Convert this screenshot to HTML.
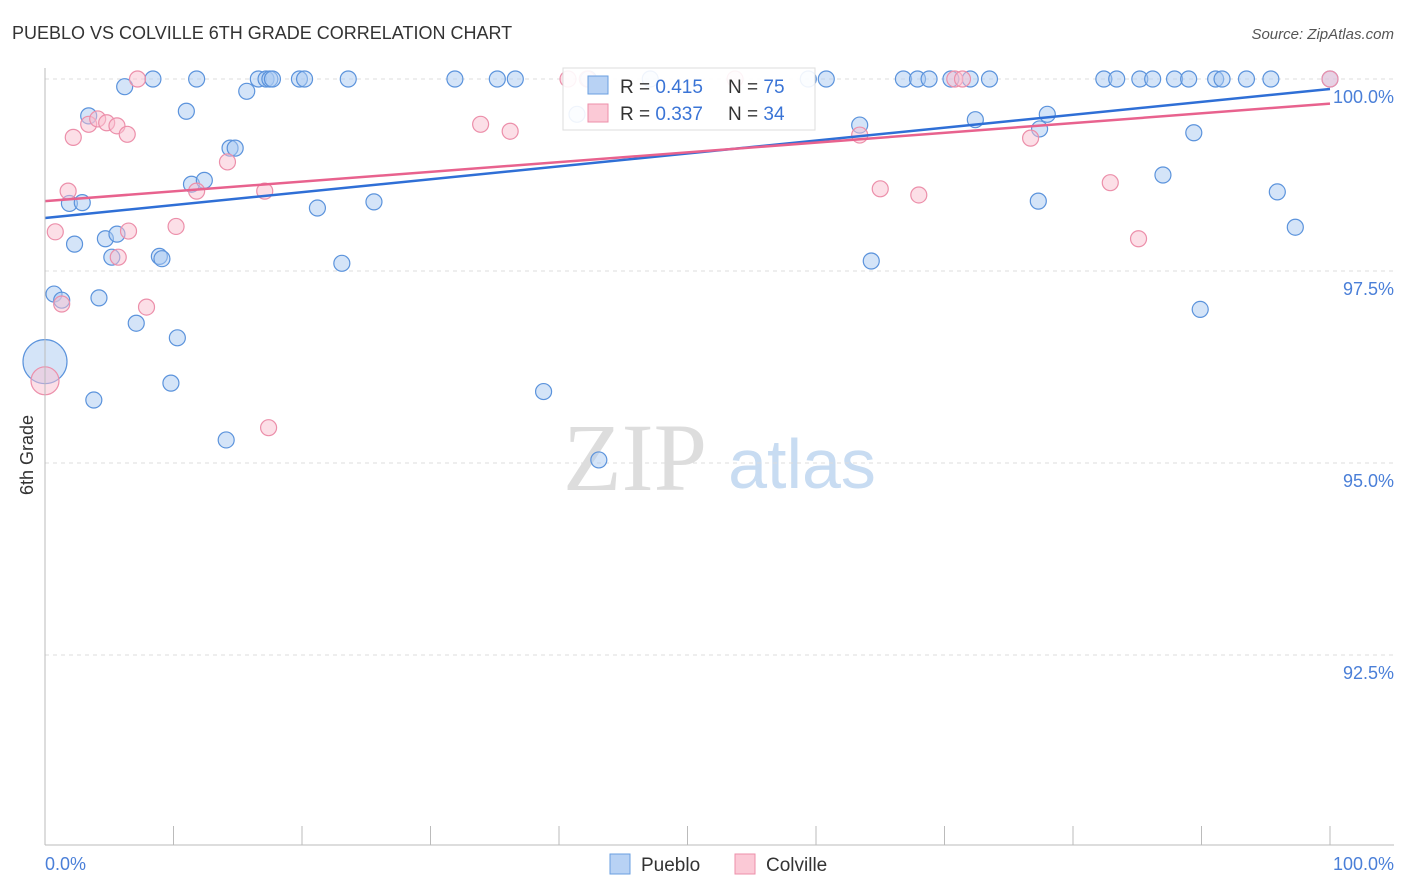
<!DOCTYPE html>
<html><head><meta charset="utf-8"><style>
body{margin:0;background:#fff;font-family:"Liberation Sans",sans-serif;}
svg{display:block}
</style></head><body>
<svg id="c" width="1406" height="892">
<text x="12" y="39" font-size="18" fill="#333">PUEBLO VS COLVILLE 6TH GRADE CORRELATION CHART</text>
<text x="1394" y="39" font-size="15" fill="#555" font-style="italic" text-anchor="end">Source: ZipAtlas.com</text>
<text x="33" y="455" font-size="18" fill="#333" transform="rotate(-90 33 455)" text-anchor="middle">6th Grade</text>
<g><text x="635" y="490" font-size="96" font-family="Liberation Serif,serif" fill="#ddd" text-anchor="middle">ZIP</text><text x="802" y="488" font-size="70" fill="#c8dcf2" text-anchor="middle">atlas</text></g>
<g id="grid"></g><g id="pts"></g><g id="lines"></g>
<line x1="45" y1="68" x2="45" y2="845" stroke="#bbb"/>
<line x1="45" y1="845" x2="1394" y2="845" stroke="#bbb"/>
<text x="45" y="870" font-size="18" fill="#4a7fd8">0.0%</text>
<text x="1394" y="870" font-size="18" fill="#4a7fd8" text-anchor="end">100.0%</text>
<g>
<rect x="563" y="68" width="252" height="62" fill="#fff" fill-opacity="0.9" stroke="#ddd"/>
<rect x="588" y="76" width="20" height="18" fill="#b8d2f4" stroke="#6a9fe0"/>
<text x="620" y="93" font-size="19" fill="#333">R = <tspan fill="#3a74d6">0.415</tspan></text>
<text x="728" y="93" font-size="19" fill="#333">N = <tspan fill="#3a74d6">75</tspan></text>
<rect x="588" y="104" width="20" height="18" fill="#fbc9d6" stroke="#ec8faa"/>
<text x="620" y="120" font-size="19" fill="#333">R = <tspan fill="#3a74d6">0.337</tspan></text>
<text x="728" y="120" font-size="19" fill="#333">N = <tspan fill="#3a74d6">34</tspan></text>
</g>
<g>
<rect x="610" y="854" width="20" height="20" fill="#b8d2f4" stroke="#6a9fe0"/>
<text x="641" y="871" font-size="19" fill="#333">Pueblo</text>
<rect x="735" y="854" width="20" height="20" fill="#fbc9d6" stroke="#ec8faa"/>
<text x="766" y="871" font-size="19" fill="#333">Colville</text>
</g>
</svg>
<script>
const yTicks=[100,97.5,95,92.5];
const yTickLabels=["100.0%","97.5%","95.0%","92.5%"];
const xTicks=[0,10,20,30,40,50,60,70,80,90,100];
const puebloX=[0,0.7,1.3,3.8,4.2,7.1,9.8,10.3,14.1,38.8,43.1,89.9,2.3,4.7,5.2,5.6,8.9,9.1,23.1,64.3,97.3,1.9,2.9,11.4,12.4,21.2,25.6,77.3,87.0,95.9,14.4,14.8,77.4,89.4,63.4,72.4,78.0,41.4,3.4,11.0,15.7,6.2,8.4,11.8,16.6,17.2,17.5,17.7,19.8,20.2,23.6,31.9,35.2,36.6,42.3,47.1,59.4,60.8,66.8,67.9,68.8,70.5,72.0,73.5,82.4,83.4,85.2,86.2,87.9,89.0,91.1,91.6,93.5,95.4,100];
const puebloY=[96.32,97.2,97.12,95.82,97.15,96.82,96.04,96.63,95.3,95.93,95.04,97.0,97.85,97.92,97.68,97.98,97.69,97.66,97.6,97.63,98.07,98.38,98.39,98.63,98.68,98.32,98.4,98.41,98.75,98.53,99.1,99.1,99.35,99.3,99.4,99.47,99.54,99.54,99.52,99.58,99.84,99.9,100,100,100,100,100,100,100,100,100,100,100,100,100,100,100,100,100,100,100,100,100,100,100,100,100,100,100,100,100,100,100,100,100];
const puebloSize=[22,8,8,8,8,8,8,8,8,8,8,8,8,8,8,8,8,8,8,8,8,8,8,8,8,8,8,8,8,8,8,8,8,8,8,8,8,8,8,8,8,8,8,8,8,8,8,8,8,8,8,8,8,8,8,8,8,8,8,8,8,8,8,8,8,8,8,8,8,8,8,8,8,8,8];
const colvilleX=[0,1.3,7.9,17.4,0.8,5.7,6.5,10.2,1.8,11.8,17.1,65.0,68.0,82.9,85.1,2.2,3.4,4.1,4.8,5.6,6.4,14.2,33.9,36.2,63.4,76.7,7.2,40.7,42.2,53.7,70.8,71.4,100];
const colvilleY=[96.07,97.07,97.03,95.46,98.01,97.68,98.02,98.08,98.54,98.54,98.54,98.57,98.49,98.65,97.92,99.24,99.41,99.48,99.43,99.39,99.28,98.92,99.41,99.32,99.27,99.23,100,100,100,100,100,100,100];
const colvilleSize=[14,8,8,8,8,8,8,8,8,8,8,8,8,8,8,8,8,8,8,8,8,8,8,8,8,8,8,8,8,8,8,8,8];
const puebloTrend=[98.19,99.87];
const colvilleTrend=[98.41,99.68];
const NS="http://www.w3.org/2000/svg";
const X=v=>45+v/100*1285, Y=v=>79+(100-v)*76.8;
function mk(t,a,p){const e=document.createElementNS(NS,t);for(const k in a)e.setAttribute(k,a[k]);p.appendChild(e);return e;}
const grid=document.getElementById('grid');
yTicks.forEach((t,i)=>{
 const l=mk('line',{x1:45,x2:1394,y1:Y(t),y2:Y(t),stroke:'#ddd','stroke-dasharray':'4 4'},grid);
 
 
 const tx=mk('text',{x:1394,y:Y(t)+24,'font-size':18,fill:'#4a7fd8','text-anchor':'end'},grid);
 tx.textContent=yTickLabels[i];
 
 
});
xTicks.forEach(t=>{
 const l=mk('line',{x1:X(t),x2:X(t),y1:826,y2:845,stroke:'#bbb'},grid);
 
 
});
const pts=document.getElementById('pts');
puebloX.forEach((v,i)=>{
 const c=mk('circle',{cx:X(v),cy:Y(puebloY[i]),r:puebloSize[i],fill:'#a9c9f1','fill-opacity':0.5,stroke:'#5b93dc','stroke-width':1.2},pts);
 
 
});
colvilleX.forEach((v,i)=>{
 const c=mk('circle',{cx:X(v),cy:Y(colvilleY[i]),r:colvilleSize[i],fill:'#f9c0d0','fill-opacity':0.5,stroke:'#ec8faa','stroke-width':1.2},pts);
 
 
});
const lines=document.getElementById('lines');
const pl=mk('line',{x1:X(0),y1:Y(puebloTrend[0]),x2:X(100),y2:Y(puebloTrend[1]),stroke:'#2f6fd6','stroke-width':2.5},lines);


const cl=mk('line',{x1:X(0),y1:Y(colvilleTrend[0]),x2:X(100),y2:Y(colvilleTrend[1]),stroke:'#e8628e','stroke-width':2.5},lines);


</script>
</body></html>
